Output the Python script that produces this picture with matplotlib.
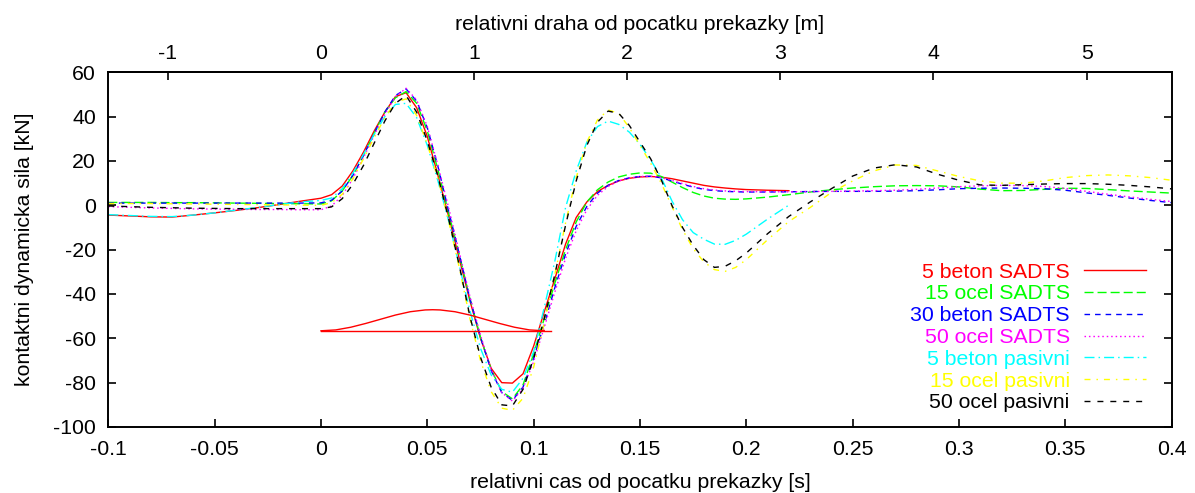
"""Kontaktni dynamicka sila pri prejezdu prekazky: SADTS vs pasivni tlumeni."""

import matplotlib

matplotlib.use("Agg")
import matplotlib.pyplot as plt
from matplotlib.ticker import FormatStrFormatter

plt.rcParams["font.family"] = ["Liberation Sans", "DejaVu Sans"]
plt.rcParams["font.size"] = 15.3
plt.rcParams["axes.unicode_minus"] = False

SPEED = 50 / 3.6  # m/s -> horni osa: draha = cas * rychlost

# casove body [s]
T_PRE = [-0.10, -0.09, -0.08, -0.07, -0.06, -0.05, -0.04, -0.03, -0.02, -0.01]
T_CORE = [0.000, 0.005, 0.010, 0.015, 0.020, 0.025, 0.030, 0.035, 0.040, 0.045,
          0.050, 0.055, 0.060, 0.065, 0.070, 0.075, 0.080, 0.085, 0.090, 0.095,
          0.100, 0.105, 0.110, 0.115, 0.120, 0.125, 0.130, 0.135, 0.140, 0.145,
          0.150, 0.155, 0.160, 0.165, 0.170, 0.175, 0.180, 0.185, 0.190, 0.195,
          0.200]
T_TAIL = [0.21, 0.22, 0.23, 0.24, 0.25, 0.26, 0.27, 0.28, 0.29, 0.30,
          0.31, 0.32, 0.33, 0.34, 0.35, 0.36, 0.37, 0.38, 0.39, 0.40]
T_FULL = T_PRE + T_CORE + T_TAIL
T_SHORT = T_PRE + T_CORE + T_TAIL[:2]  # 5 beton konci u 0.22 s

# sila [kN]
beton5_sadts = [-4.4, -4.8, -5.2, -5.3, -4.4, -3.4, -2.3, -1.1, 0.3, 1.8,
                3.2, 4.8, 8.7, 15.5, 24, 33.5, 42, 49, 50.8, 44,
                31, 13.5, -5, -24, -43, -60, -73.5, -80, -80.2, -76,
                -63.5, -48, -33, -17.5, -5.5, 1.5, 6.2, 9, 11, 12.2,
                12.8, 13, 12.7, 12, 11, 10, 9, 8.3, 7.8, 7.4,
                7.1, 6.8, 6.6]
ocel15_sadts = [1.3, 1.3, 1.3, 1.2, 1.2, 1.1, 1.0, 0.9, 0.8, 0.7,
                0.6, 2.0, 6.5, 13.5, 22.5, 32.5, 42, 48.5, 51.3, 46,
                33.5, 16, -3.5, -22, -42, -59.5, -74, -84, -87.3, -81,
                -67, -51, -35, -20, -7.5, 1.5, 7, 10.5, 12.8, 14,
                14.6, 14.5, 13, 10.5, 8, 5.8, 4.2, 3.2, 2.8, 2.7,
                2.9, 3.7, 4.8, 6, 7, 7.8, 8.4, 8.8, 8.9, 8.8,
                8.3, 7.3, 6.6, 6.7, 7.2, 7.7, 7.6, 7.1, 6.5, 6.0,
                5.5]
beton30_sadts = [1.0, 1.0, 1.0, 1.0, 1.0, 1.0, 1.0, 1.0, 1.0, 1.0,
                 1.1, 2.3, 6.5, 13.5, 22.5, 32.5, 42, 49.5, 52.5, 47,
                 35, 17.5, -2.5, -22, -42, -59.5, -74.5, -84.5, -88, -82,
                 -69, -53.5, -37, -22, -9.5, -0.5, 5.5, 9, 11.2, 12.4,
                 13, 13.1, 12.4, 11, 9.5, 8.2, 7.2, 6.6, 6.3, 6.1,
                 6.0, 6.0, 6.1, 6.2, 6.3, 6.3, 6.3, 6.4, 6.6, 7.0,
                 7.5, 7.7, 7.8, 7.7, 7.5, 6.8, 5.6, 4.5, 3.3, 2.2,
                 1.2]
ocel50_sadts = [-0.6, -0.9, -1.2, -1.4, -1.6, -1.7, -1.8, -1.9, -1.9, -2.0,
                -2.0, -0.3, 4.5, 12, 21.5, 31.5, 41, 49, 52.8, 47.5,
                35.5, 18, -1, -21, -41, -58.5, -74, -84.5, -88.3, -82.5,
                -70.5, -55, -39, -24, -11.5, -2, 4.5, 8.5, 11, 12.3,
                13, 13.1, 12.5, 11.2, 9.8, 8.5, 7.5, 6.9, 6.5, 6.3,
                6.2, 6.1, 6.1, 6.2, 6.3, 6.4, 6.6, 6.8, 7.2, 7.8,
                8.4, 8.8, 9.0, 8.9, 8.5, 7.6, 6.3, 5.0, 3.8, 2.7,
                1.7]
beton5_pasiv = [-4.2, -4.6, -5.0, -5.1, -4.4, -3.4, -2.2, -1.0, 0.3, 1.5,
                2.2, 3.3, 7.5, 14.5, 23, 32, 40, 45.5, 46, 39.5,
                27, 11, -7, -27, -47.5, -64.5, -76.5, -83, -84.3, -78,
                -66, -46, -25, -1, 15.5, 28.5, 35.5, 38, 36.5, 33,
                27.5, 20.5, 12.5, 2, -6.5, -12.3, -15.3, -17.5, -17.6, -15.8,
                -13, -6.2, 0.1]
ocel15_pasiv = [0.8, 0.8, 0.8, 0.7, 0.6, 0.5, 0.4, 0.3, 0.2, 0.1,
                0.0, 1.2, 5, 12, 21, 30.5, 39.5, 46.5, 48, 40.5,
                27.5, 12, -7, -28, -51, -70, -84, -91.5, -92.5, -87,
                -73, -53, -31, -8, 12.5, 28.5, 38.5, 43, 41.5, 35,
                27, 19, 10, -0.5, -11, -19.5, -25.5, -29, -29.8, -28,
                -24.5, -15.5, -7.3, -1, 5.8, 11, 15.5, 18.2, 18, 15.5,
                13, 11, 10, 10, 11, 12.5, 13.4, 13.7, 13.3, 12.5,
                11.3]
ocel50_pasiv = [-0.3, -0.6, -0.9, -1.1, -1.3, -1.4, -1.5, -1.5, -1.5, -1.5,
                -1.5, -0.7, 3, 9.5, 18, 28, 38, 46, 49.5, 42,
                29, 13, -6, -27, -50, -68.5, -82, -90, -90.5, -83,
                -69, -51, -31, -9, 11, 27, 37.5, 42.5, 41.5, 36,
                28.5, 21, 11.5, 0, -10, -18, -24.5, -28, -27.5, -25,
                -21.5, -12.8, -5, 1.5, 7.5, 13.2, 16.8, 18.3, 17.3, 14,
                11.3, 9.2, 9, 9.3, 9.6, 9.8, 9.8, 9.5, 9, 8.3,
                7.4]

# tvar prekazky (v meritku grafu)
T_BUMP = [0.0, 0.007, 0.014, 0.021, 0.028, 0.035, 0.042, 0.049, 0.0525,
          0.056, 0.063, 0.070, 0.077, 0.084, 0.091, 0.098, 0.105]
bump = [-56.6, -56.2, -55.0, -53.3, -51.4, -49.5, -48.0, -47.2, -47.1,
        -47.2, -48.0, -49.5, -51.4, -53.3, -55.0, -56.2, -56.6]
T_BASE = [0.0, 0.108]
base = [-56.6, -56.6]

SERIES = [
    ("5 beton SADTS", T_SHORT, beton5_sadts, "#ff0000", "-"),
    ("15 ocel SADTS", T_FULL, ocel15_sadts, "#00ff00", (0, (6.5, 2.9))),
    ("30 beton SADTS", T_FULL, beton30_sadts, "#0000ff", (0, (4.0, 3.6))),
    ("50 ocel SADTS", T_FULL, ocel50_sadts, "#ff00ff", (0, (1.1, 2.1))),
    ("5 beton pasivni", T_SHORT, beton5_pasiv, "#00ffff", (0, (7.2, 2.9, 1.1, 2.9))),
    ("15 ocel pasivni", T_FULL, ocel15_pasiv, "#ffff00", (0, (4.3, 4.3, 1.1, 4.3))),
    ("50 ocel pasivni", T_FULL, ocel50_pasiv, "#000000", (0, (4.3, 5.0))),
]

W, H = 1195, 493
fig = plt.figure(figsize=(W / 100, H / 100), dpi=100)
ax = fig.add_axes([108.3 / W, 1 - 427 / H, 1063.4 / W, 354.7 / H])

for label, t, f, color, ls in SERIES:
    ax.plot(t, f, color=color, linestyle=ls, linewidth=1.0, label=label)
ax.plot(T_BUMP, bump, color="#ff0000", linewidth=1.0)
ax.plot(T_BASE, base, color="#ff0000", linewidth=1.0)

ax.set_xlim(-0.1, 0.4)
ax.set_ylim(-100, 60)
ax.set_xticks([-0.1, -0.05, 0, 0.05, 0.1, 0.15, 0.2, 0.25, 0.3, 0.35, 0.4])
ax.set_yticks([-100, -80, -60, -40, -20, 0, 20, 40, 60])
ax.xaxis.set_major_formatter(FormatStrFormatter("%g"))
ax.yaxis.set_major_formatter(FormatStrFormatter("%g"))
ax.tick_params(axis="x", direction="in", length=5.8, width=1.2, top=False, pad=9.6)
ax.tick_params(axis="y", direction="in", length=5.8, width=1.2, right=True, pad=9)
for sp in ax.spines.values():
    sp.set_linewidth(1.4)

sec = ax.secondary_xaxis("top", functions=(lambda t: t * SPEED, lambda s: s / SPEED))
sec.set_xticks([-1, 0, 1, 2, 3, 4, 5])
sec.xaxis.set_major_formatter(FormatStrFormatter("%g"))
sec.tick_params(direction="in", length=5.8, width=1.2, pad=7)
sec.spines["top"].set_linewidth(1.4)
sec.set_xlabel("relativni draha od pocatku prekazky [m]", labelpad=10)

ax.set_xlabel("relativni cas od pocatku prekazky [s]", labelpad=10)
ax.set_ylabel("kontaktni dynamicka sila [kN]", labelpad=13.5)

ax.legend(loc="upper right", bbox_to_anchor=(0.9758, 0.4632), markerfirst=False,
          frameon=False, labelcolor="linecolor", handlelength=2.9, handletextpad=0.69,
          labelspacing=0.13, borderpad=0, borderaxespad=0)

fig.savefig("out.png", dpi=100)
